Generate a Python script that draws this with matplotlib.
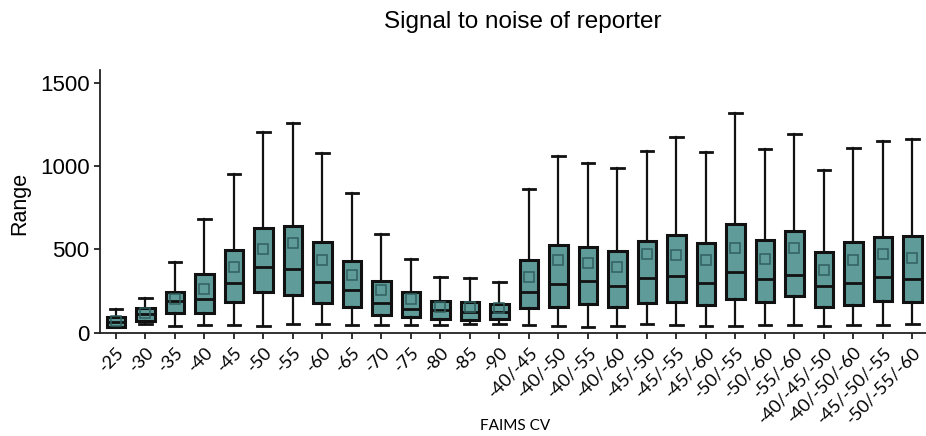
import matplotlib
matplotlib.use("Agg")
import matplotlib.pyplot as plt
import matplotlib.transforms as mtransforms

categories = ["-25", "-30", "-35", "-40", "-45", "-50", "-55", "-60", "-65", "-70",
              "-75", "-80", "-85", "-90", "-40/-45", "-40/-50", "-40/-55", "-40/-60",
              "-45/-50", "-45/-55", "-45/-60", "-50/-55", "-50/-60", "-55/-60",
              "-40/-45/-50", "-40/-50/-60", "-45/-50/-55", "-50/-55/-60"]
whisker_low = [32, 50, 40, 46, 46, 42, 54, 50, 44, 44, 48, 48, 54, 50, 44, 40, 36, 38,
               52, 46, 38, 38, 48, 46, 42, 44, 44, 50]
q1 = [36, 72, 116, 120, 182, 242, 226, 180, 154, 106, 94, 82, 76, 84, 146, 154, 174, 154,
      180, 186, 166, 200, 186, 218, 154, 168, 188, 186]
medians = [66, 112, 188, 202, 298, 392, 382, 306, 254, 180, 142, 136, 122, 122, 246, 294,
           312, 282, 328, 340, 300, 362, 322, 346, 278, 298, 334, 324]
q3 = [96, 146, 242, 350, 494, 626, 642, 544, 432, 310, 242, 192, 182, 172, 434, 528, 516,
      488, 550, 586, 538, 650, 556, 610, 482, 544, 574, 582]
whisker_high = [140, 206, 422, 680, 950, 1206, 1256, 1080, 836, 592, 442, 334, 326, 306,
                862, 1058, 1020, 986, 1090, 1176, 1082, 1320, 1102, 1190, 974, 1106, 1150, 1162]
means = [70, 118, 204, 260, 394, 500, 538, 434, 344, 254, 202, 154, 154, 146, 334, 434,
         420, 396, 474, 468, 438, 510, 442, 508, 378, 436, 472, 450]

stats = []
for i, name in enumerate(categories):
    stats.append(dict(label=name, whislo=whisker_low[i], q1=q1[i], med=medians[i],
                      q3=q3[i], whishi=whisker_high[i], mean=means[i], fliers=[]))

fig = plt.figure(figsize=(9.26, 4.36), dpi=100)
ax = fig.add_axes([100 / 926, 1 - 332.7 / 436, 826 / 926, (332.7 - 70) / 436])

positions = list(range(len(categories)))
ax.bxp(stats, positions=positions, widths=0.62, capwidths=0.42,
       showmeans=True, patch_artist=True,
       boxprops=dict(facecolor="#5f9b99", edgecolor="#111111", linewidth=2.2),
       medianprops=dict(color="#111111", linewidth=2.0),
       whiskerprops=dict(color="#111111", linewidth=1.6),
       capprops=dict(color="#111111", linewidth=2.0),
       meanprops=dict(marker="s", markerfacecolor="none", markeredgecolor="#2f5f5e",
                      markersize=6.5, markeredgewidth=1.1))

ax.set_xlim(-0.54, 27.46)
ax.set_ylim(0, 1575)
ax.set_yticks([0, 500, 1000, 1500])
ax.set_xticks(positions)
ax.set_xticklabels(categories, rotation=46, ha="right", va="top",
                   rotation_mode="anchor", fontsize=13, family="Lato")
offset = mtransforms.ScaledTranslation(9 / 100, -13 / 100, fig.dpi_scale_trans)
for lbl in ax.get_xticklabels():
    lbl.set_transform(lbl.get_transform() + offset)

for s in ["top", "right"]:
    ax.spines[s].set_visible(False)
for s in ["left", "bottom"]:
    ax.spines[s].set_linewidth(1.3)
    ax.spines[s].set_color("#222222")
ax.tick_params(axis="both", length=4.5, width=1.3, color="#222222")
ax.tick_params(axis="y", labelsize=16, pad=3)
for lbl in ax.get_yticklabels():
    lbl.set_family("Liberation Sans")

fig.text(20 / 926, 1 - 203 / 436, "Range", rotation=90, ha="center", va="center",
         fontsize=15.5, family="Liberation Sans")
fig.text(515 / 926, 1 - 426 / 436, "FAIMS CV", ha="center", va="center",
         fontsize=11, family="Lato")
fig.text(523 / 926, 1 - 22 / 436, "Signal to noise of reporter", ha="center", va="center",
         fontsize=17.5, family="Liberation Sans")

fig.savefig("out.png", dpi=100)
